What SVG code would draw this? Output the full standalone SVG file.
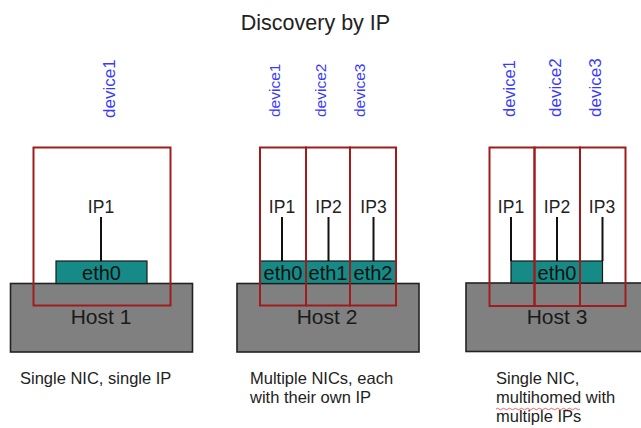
<svg xmlns="http://www.w3.org/2000/svg" width="641" height="428" viewBox="0 0 641 428">
<style>
text{font-family:"Liberation Sans",Arial,sans-serif}
.title{font-size:21.5px;fill:#222;text-anchor:middle}
.dev{fill:#3a3aff}
.host{fill:#808080;stroke:#222;stroke-width:1.6}
.nic{fill:#168a86;stroke:#1a1a1a;stroke-width:1.2}
.dbox{fill:none;stroke:#a01c1c;stroke-width:2}
.hl{font-size:21px;fill:#1a1a1a;text-anchor:middle}
.ip{font-size:17.5px;fill:#222;text-anchor:middle}
.eth{font-size:20px;fill:#111;text-anchor:middle}
.cap{font-size:16.5px;fill:#222}
.wire{stroke:#111;stroke-width:2;fill:none}
</style>
<text class="title" x="315.5" y="30">Discovery by IP</text>

<g id="host1">
<rect class="host" x="10.5" y="283.5" width="182" height="68.5"/>
<rect class="nic" x="56" y="261" width="91" height="22.5"/>
<text class="eth" x="101.5" y="279.5">eth0</text>
<text class="hl" x="101" y="324">Host 1</text>
</g>
<g id="host1-device1">
<rect class="dbox" x="33.5" y="147.5" width="137" height="158"/>
<text class="ip" x="101" y="212.5">IP1</text>
<text class="dev" font-size="17" transform="translate(115,118) rotate(-90)">device1</text>
</g>

<g id="host2">
<rect class="host" x="237" y="283.5" width="182" height="68.5"/>
<rect class="nic" x="260" y="261" width="46" height="22.5"/>
<rect class="nic" x="306" y="261" width="44" height="22.5"/>
<rect class="nic" x="350" y="261" width="46" height="22.5"/>
<text class="eth" x="283" y="279.5">eth0</text>
<text class="eth" x="328" y="279.5">eth1</text>
<text class="eth" x="373" y="279.5">eth2</text>
<text class="hl" x="327" y="324">Host 2</text>
</g>
<g id="host2-device1">
<rect class="dbox" x="260" y="147.5" width="46" height="158"/>
<text class="ip" x="282" y="212.5">IP1</text>
<text class="dev" font-size="15.5" transform="translate(280,117) rotate(-90)">device1</text>
</g>
<g id="host2-device2">
<rect class="dbox" x="306" y="147.5" width="44" height="158"/>
<text class="ip" x="328.5" y="212.5">IP2</text>
<text class="dev" font-size="15.5" transform="translate(325.5,117) rotate(-90)">device2</text>
</g>
<g id="host2-device3">
<rect class="dbox" x="350" y="147.5" width="46" height="158"/>
<text class="ip" x="373.5" y="212.5">IP3</text>
<text class="dev" font-size="15.5" transform="translate(365,117) rotate(-90)">device3</text>
</g>

<g id="host3">
<rect class="host" x="466" y="283" width="180" height="68.5"/>
<rect class="nic" x="511" y="261" width="91.5" height="22"/>
<text class="eth" x="557" y="279.5">eth0</text>
<text class="hl" x="557" y="323.5">Host 3</text>
</g>
<g id="host3-device1">
<rect class="dbox" x="489.5" y="147.5" width="45" height="158.5"/>
<text class="ip" x="511" y="212.5">IP1</text>
<text class="dev" font-size="16.5" transform="translate(515,117) rotate(-90)">device1</text>
</g>
<g id="host3-device2">
<rect class="dbox" x="534.5" y="147.5" width="45.5" height="158.5"/>
<text class="ip" x="557" y="212.5">IP2</text>
<text class="dev" font-size="17" transform="translate(560.5,117) rotate(-90)">device2</text>
</g>
<g id="host3-device3">
<rect class="dbox" x="580" y="147.5" width="45.5" height="158.5"/>
<text class="ip" x="602" y="212.5">IP3</text>
<text class="dev" font-size="17" transform="translate(601,117) rotate(-90)">device3</text>
</g>

<g id="connectors">
<line class="wire" x1="101" y1="217" x2="101" y2="261"/>
<line class="wire" x1="282" y1="217" x2="282" y2="261"/>
<line class="wire" x1="328.5" y1="217" x2="328.5" y2="261"/>
<line class="wire" x1="373.5" y1="217" x2="373.5" y2="261"/>
<line class="wire" x1="511" y1="217" x2="511" y2="261"/>
<line class="wire" x1="557" y1="217" x2="557" y2="261"/>
<line class="wire" x1="602.5" y1="217" x2="602.5" y2="261"/>
</g>

<g id="captions">
<text class="cap" x="20" y="384">Single NIC, single IP</text>
<text class="cap" x="250" y="384">Multiple NICs, each</text>
<text class="cap" x="250" y="403">with their own IP</text>
<text class="cap" x="496" y="384">Single NIC,</text>
<text class="cap" x="496" y="403">multihomed with</text>
<text class="cap" x="496" y="422">multiple IPs</text>
<path d="M496 409 q1.5 -1.5 3 0 t3 0 t3 0 t3 0 t3 0 t3 0 t3 0 t3 0 t3 0 t3 0 t3 0 t3 0 t3 0 t3 0 t3 0 t3 0 t3 0 t3 0 t3 0 t3 0 t3 0 t3 0 t3 0 t3 0 t3 0 t3 0 t3 0 t3 0" fill="none" stroke="#e04040" stroke-width="0.8"/>
</g>
</svg>
